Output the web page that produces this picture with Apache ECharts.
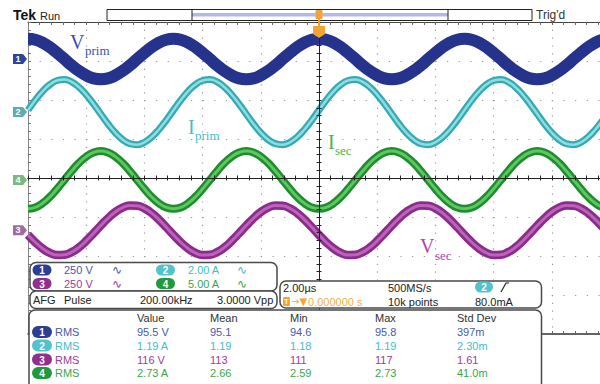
<!DOCTYPE html>
<html><head><meta charset="utf-8">
<script src="https://cdn.jsdelivr.net/npm/echarts@6/dist/echarts.min.js"></script>
<style>html,body{margin:0;padding:0;background:#fff}#c{width:600px;height:384px}</style>
</head><body><div id="c"></div>
<script>
// ---- sample instants (µs) ----
const timeUs = [-10,-9.75,-9.5,-9.25,-9,-8.75,-8.5,-8.25,-8,-7.75,-7.5,-7.25,-7,-6.75,-6.5,-6.25,-6,-5.75,-5.5,-5.25,
 -5,-4.75,-4.5,-4.25,-4,-3.75,-3.5,-3.25,-3,-2.75,-2.5,-2.25,-2,-1.75,-1.5,-1.25,-1,-0.75,-0.5,-0.25,
 0,0.25,0.5,0.75,1,1.25,1.5,1.75,2,2.25,2.5,2.75,3,3.25,3.5,3.75,4,4.25,4.5,4.75,
 5,5.25,5.5,5.75,6,6.25,6.5,6.75,7,7.25,7.5,7.75,8,8.25,8.5,8.75,9,9.25,9.5,9.75,10];
// ---- channel 1: V prim (V) ----
const vPrim = [
 130,124,105,76,40,0,-40,-76,-105,-124,-130,-124,-105,-76,-40,0,40,76,105,124,
 130,124,105,76,40,0,-40,-76,-105,-124,-130,-124,-105,-76,-40,0,40,76,105,124,
 130,124,105,76,40,0,-40,-76,-105,-124,-130,-124,-105,-76,-40,0,40,76,105,124,
 130,124,105,76,40,0,-40,-76,-105,-124,-130,-124,-105,-76,-40,0,40,76,105,124,
 130];
// ---- channel 2: I prim (A) ----
const iPrim = [
 0.10,0.61,1.06,1.41,1.62,1.67,1.55,1.28,0.89,0.42,-0.10,-0.61,-1.06,-1.41,-1.62,-1.67,-1.55,-1.28,-0.89,-0.42,
 0.10,0.61,1.06,1.41,1.62,1.67,1.55,1.28,0.89,0.42,-0.10,-0.61,-1.06,-1.41,-1.62,-1.67,-1.55,-1.28,-0.89,-0.42,
 0.10,0.61,1.06,1.41,1.62,1.67,1.55,1.28,0.89,0.42,-0.10,-0.61,-1.06,-1.41,-1.62,-1.67,-1.55,-1.28,-0.89,-0.42,
 0.10,0.61,1.06,1.41,1.62,1.67,1.55,1.28,0.89,0.42,-0.10,-0.61,-1.06,-1.41,-1.62,-1.67,-1.55,-1.28,-0.89,-0.42,
 0.10];
// ---- channel 3: V sec (V) ----
const vSec = [
 -30,-77,-117,-145,-159,-157,-140,-110,-68,-20,30,77,117,145,159,157,140,110,68,20,
 -30,-77,-117,-145,-159,-157,-140,-110,-68,-20,30,77,117,145,159,157,140,110,68,20,
 -30,-77,-117,-145,-159,-157,-140,-110,-68,-20,30,77,117,145,159,157,140,110,68,20,
 -30,-77,-117,-145,-159,-157,-140,-110,-68,-20,30,77,117,145,159,157,140,110,68,20,
 -30];
// ---- channel 4: I sec (A) ----
const iSec = [
 -3.70,-3.52,-2.99,-2.18,-1.14,0,1.14,2.18,2.99,3.52,3.70,3.52,2.99,2.18,1.14,0,-1.14,-2.18,-2.99,-3.52,
 -3.70,-3.52,-2.99,-2.18,-1.14,0,1.14,2.18,2.99,3.52,3.70,3.52,2.99,2.18,1.14,0,-1.14,-2.18,-2.99,-3.52,
 -3.70,-3.52,-2.99,-2.18,-1.14,0,1.14,2.18,2.99,3.52,3.70,3.52,2.99,2.18,1.14,0,-1.14,-2.18,-2.99,-3.52,
 -3.70,-3.52,-2.99,-2.18,-1.14,0,1.14,2.18,2.99,3.52,3.70,3.52,2.99,2.18,1.14,0,-1.14,-2.18,-2.99,-3.52,
 -3.70];
// ---- readouts ----
const chNames = ['1','2','3','4'];
const chScale = ['250 V','2.00 A','250 V','5.00 A'];
const measHeader = ['Value','Mean','Min','Max','Std Dev'];
const measType = ['RMS','RMS','RMS','RMS'];
const measValue = ['95.5 V','1.19 A','116 V','2.73 A'];
const measMean = ['95.1','1.19','113','2.66'];
const measMin = ['94.6','1.18','111','2.59'];
const measMax = ['95.8','1.19','117','2.73'];
const measStd = ['397m','2.30m','1.61','41.0m'];
const afgInfo = ['AFG','Pulse','200.00kHz','3.0000 Vpp'];
const hInfo = ['2.00µs','500MS/s','0.000000 s','10k points','80.0mA'];

// ---- styling ----
const txtColor = ['#4a58a8','#45bcc6','#9c3c9c','#3aa64b'];
const pillColor = ['#2c3d92','#52c2cd','#8f2f8f','#1f9a3e'];
const markColor = ['#2e4598','#5aaeb4','#a06aa0','#7cb87c'];
const F = '"Liberation Sans", Arial, sans-serif';
const SERIF = '"Liberation Serif", "DejaVu Serif", serif';
const FS = '11px ' + F;

function pts(arr){ return timeUs.map((t,i)=>[t, arr[i]]); }
function txt(x,y,s,color,font,align){
  return {type:'text', z:102, style:{text:s, x:x, y:y, fill:color, font:font||FS,
    textAlign:align||'left', textVerticalAlign:'middle', align:align||'left', verticalAlign:'middle'}};
}
function pill(x,y,w,h,fill,label){
  return [{type:'rect', z:101, shape:{x:x, y:y-h/2, width:w, height:h, r:h/2}, style:{fill:fill}},
    txt(x+w/2, y+0.5, label, '#fff', 'bold 10px '+F, 'center')];
}
function box(x,y,w,h){
  return {type:'rect', z:100, shape:{x:x,y:y,width:w,height:h,r:6}, style:{fill:'#fff', stroke:'#4a4a4a', lineWidth:1.5}};
}
function gMark(i){
  return {symbol:'path://M0,0L10,0L14,5L10,10L0,10Z', symbolSize:[14,10], symbolOffset:[-8,0], silent:true,
    itemStyle:{color:markColor[i]},
    label:{show:true, formatter:chNames[i], color:'#fff', fontSize:9, fontWeight:'bold', offset:[-2,0]},
    data:[{coord:[-10,0]}]};
}

const g = [];
// header
g.push(txt(13,15,'Tek','#111','bold 14px '+F));
g.push(txt(40,15.5,'Run','#222',FS));
g.push({type:'rect', z:101, shape:{x:107,y:9.5,width:425,height:11}, style:{fill:'#fff', stroke:'#222', lineWidth:1}});
g.push({type:'rect', z:101, shape:{x:192,y:13,width:256,height:3.5}, style:{fill:'#b3b8e6'}});
g.push({type:'line', z:102, shape:{x1:192,y1:9.5,x2:192,y2:20.5}, style:{stroke:'#222', lineWidth:1}});
g.push({type:'line', z:102, shape:{x1:448,y1:9.5,x2:448,y2:20.5}, style:{stroke:'#222', lineWidth:1}});
g.push(txt(536,15,"Trig'd",'#333','12px '+F));
// trigger markers
g.push({type:'line', z:103, shape:{x1:319,y1:18,x2:319,y2:28}, style:{stroke:'#f0a030', lineWidth:2}});
g.push({type:'rect', z:103, shape:{x:315.5,y:10,width:7,height:9,r:1}, style:{fill:'#f2a534'}});
g.push(txt(319,14.8,'T','#fff','bold 7px '+F,'center'));
g.push({type:'polygon', z:103, shape:{points:[[313,26],[325,26],[325,34],[319,38],[313,34]]}, style:{fill:'#f2a534'}});
g.push(txt(319,31,'T','#fff','bold 9px '+F,'center'));
// trace labels
g.push(txt(70,41.5,'V','#3a4fb5','20px '+SERIF));
g.push(txt(85,50,'prim','#3a4fb5','13px '+SERIF));
g.push(txt(188,126.5,'I','#3fc0c8','20px '+SERIF));
g.push(txt(195,135,'prim','#3fc0c8','13px '+SERIF));
g.push(txt(328,141.5,'I','#45b549','20px '+SERIF));
g.push(txt(335,150.5,'sec','#45b549','13px '+SERIF));
g.push(txt(420,246,'V','#b044b0','20px '+SERIF));
g.push(txt(435,255,'sec','#b044b0','13px '+SERIF));
// channel box
g.push(box(30,262.5,247,28.5));
const rowY = [270,283.5];
[[0,32.5,64,112],[1,156,188,237],[2,32.5,64,112],[3,156,188,237]].forEach((d,k)=>{
  const i=d[0], y=rowY[k<2?0:1];
  g.push(...pill(d[1],y,19,11,pillColor[i],chNames[i]));
  g.push(txt(d[2],y,chScale[i],txtColor[i],FS));
  g.push(txt(d[3],y,'∿',txtColor[i],'12px "DejaVu Sans"'));
});
// AFG box
g.push(box(30,291,247,17.5));
[33,64,140,217].forEach((x,k)=>g.push(txt(x,300,afgInfo[k],'#222',FS)));
// horizontal box
g.push(box(280,281,261.5,27));
g.push(txt(283,287.5,hInfo[0],'#222',FS));
g.push(txt(388,287.5,hInfo[1],'#222',FS));
g.push(...pill(475,287,18,11,pillColor[1],'2'));
g.push({type:'polyline', z:102, shape:{points:[[501,292],[506,283],[509,283]]}, style:{stroke:'#222', lineWidth:1.2, fill:null}});
g.push({type:'rect', z:101, shape:{x:283,y:297,width:7,height:9,r:1}, style:{fill:'#f2a534'}});
g.push(txt(286.5,301.5,'T','#fff','bold 7px '+F,'center'));
g.push(txt(291,301.5,'→▼','#f2a534','10px "DejaVu Sans"'));
g.push(txt(308,301.5,hInfo[2],'#f2b04a',FS));
g.push(txt(388,301.5,hInfo[3],'#222',FS));
g.push(txt(475,301.5,hInfo[4],'#222',FS));
// measurement box
g.push(box(29,310,512.5,80));
const colX = [137,210,290,375,457];
measHeader.forEach((h,k)=>g.push(txt(colX[k],318,h,'#333',FS)));
const mRowY = [332,345.5,359.5,373];
for(let i=0;i<4;i++){
  const y=mRowY[i];
  g.push(...pill(32,y,20,12,pillColor[i],chNames[i]));
  g.push(txt(55,y,measType[i],txtColor[i],FS));
  [measValue,measMean,measMin,measMax,measStd].forEach((arr,k)=>g.push(txt(colX[k],y,arr[i],txtColor[i],FS)));
}

const dotX = {color:'#9a9a9a', width:1.2, type:[1.2,6.6]};
const dotY = {color:'#9a9a9a', width:1.2, type:[1.2,10.44]};
const noLab = {show:false};
// horizontal centre graticule line: top edge of a second grid covering the lower half
function centerX(inside){
  return {type:'value', gridIndex:1, min:-10, max:10, interval:2, position:'top', z:5,
    axisLine:{show:true, onZero:false, lineStyle:{color:'#222', width:1}},
    axisTick:{show:true, inside:inside, length:2.5, lineStyle:{color:'#222'}},
    minorTick:{show:true, splitNumber:5, length:2.5, lineStyle:{color:'#222'}},
    axisLabel:noLab, splitLine:{show:false}};
}
function centerY(inside){
  return {type:'value', min:-4, max:4, interval:1, position:'left', z:5,
    axisLine:{show:true, onZero:true, onZeroAxisIndex:0, lineStyle:{color:'#222', width:1}},
    axisTick:{show:true, inside:inside, length:2.5, lineStyle:{color:'#222'}},
    minorTick:{show:true, splitNumber:5, length:2.5, lineStyle:{color:'#222'}},
    axisLabel:noLab, splitLine:{show:false}};
}
function chY(min,max){ return {type:'value', min:min, max:max, show:false, axisLine:{onZero:false}}; }
function trace(data, yi, color, width, mark){
  const s = {type:'line', xAxisIndex:0, yAxisIndex:yi, data:data, showSymbol:false, smooth:true, silent:true,
    z:2, emphasis:{disabled:true}, lineStyle:{color:color, width:width, join:'round'}};
  if(mark) s.markPoint = mark;
  return s;
}

const option = {
  animation:false,
  backgroundColor:'#fff',
  grid:[
    {left:28, top:22, width:582, height:312, show:false, outerBoundsMode:'none'},
    {left:28, top:178, width:582, height:156, show:false, outerBoundsMode:'none'}
  ],
  xAxis:[
    {type:'value', min:-10, max:10, interval:2, position:'top',
      axisLine:{show:true, onZero:false, lineStyle:{color:'#444', width:1}},
      axisTick:{show:true, inside:true, length:3, lineStyle:{color:'#666'}},
      minorTick:{show:true, splitNumber:5, length:3, lineStyle:{color:'#666'}},
      axisLabel:noLab, splitLine:{show:true, lineStyle:dotX}},
    {type:'value', min:-10, max:10, interval:2, position:'bottom',
      axisLine:{show:true, onZero:false, lineStyle:{color:'#333', width:1.5}},
      axisTick:{show:true, inside:true, length:3, lineStyle:{color:'#666'}},
      minorTick:{show:true, splitNumber:5, length:3, lineStyle:{color:'#666'}},
      axisLabel:noLab, splitLine:{show:false}},
    centerX(true), centerX(false)
  ],
  yAxis:[
    {type:'value', min:-4, max:4, interval:1, position:'left',
      axisLine:{show:true, onZero:false, lineStyle:{color:'#888', width:1}},
      axisTick:{show:true, inside:true, length:3, lineStyle:{color:'#777'}},
      minorTick:{show:true, splitNumber:5, length:3, lineStyle:{color:'#777'}},
      axisLabel:noLab, splitLine:{show:true, lineStyle:dotY}},
    centerY(true), centerY(false),
    chY(-1762.5, 237.5),
    chY(-11.38, 4.62),
    chY(-665, 1335),
    chY(-19.75, 20.25),
    {type:'value', gridIndex:1, min:-4, max:0, show:false}
  ],
  series:[
    trace(pts(vPrim), 3, '#25338c', 12, gMark(0)),
    trace(pts(iPrim), 4, '#35aab4', 7, gMark(1)),
    trace(pts(iPrim), 4, '#8edde0', 2.5),
    trace(pts(iSec), 6, '#1f8c30', 8, gMark(3)),
    trace(pts(iSec), 6, '#5cc85e', 3),
    trace(pts(vSec), 5, '#8b2c8b', 8.5, gMark(2)),
    trace(pts(vSec), 5, '#bb62bb', 3)
  ],
  graphic:{elements:g}
};
const chart = echarts.init(document.getElementById('c'), null, {renderer:'svg'});
chart.setOption(option);
</script>
</body></html>
